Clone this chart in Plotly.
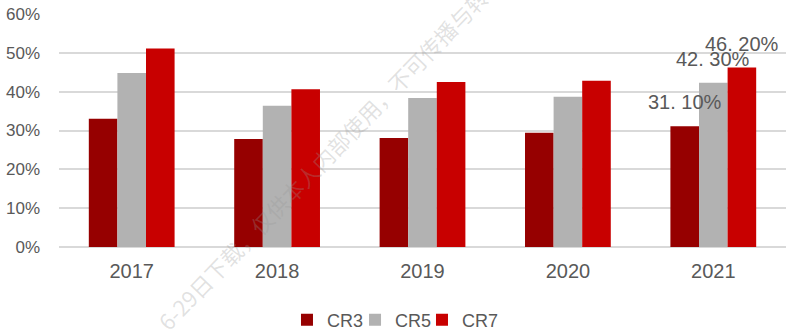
import plotly.graph_objects as go

# Market concentration ratios by year
years = ["2017", "2018", "2019", "2020", "2021"]
cr3 = [33.0, 27.8, 28.1, 29.4, 31.1]
cr5 = [44.8, 36.4, 38.4, 38.7, 42.3]
cr7 = [51.1, 40.6, 42.5, 42.8, 46.2]
series_names = ["CR3", "CR5", "CR7"]
series_colors = ["#960000", "#B2B2B2", "#C80000"]
y_ticks = [0, 10, 20, 30, 40, 50, 60]

text_color = "#595959"
base_font = "Liberation Sans, Arial, sans-serif"

# one small legend per series so the entries sit close together
legend_ids = ["legend", "legend2", "legend3"]
legend_x = [0.3136, 0.4072, 0.4993]

fig = go.Figure()
for name, vals, color, lid in zip(series_names, [cr3, cr5, cr7], series_colors, legend_ids):
    fig.add_trace(go.Bar(
        x=years,
        y=[v / 100 for v in vals],
        name=name,
        legend=lid,
        marker=dict(color=color, line=dict(width=0)),
    ))

# Value labels on the latest year
bar_w = 145 * 0.59 / 3
last_idx = len(years) - 1
for i, vals in enumerate([cr3, cr5, cr7]):
    v = vals[-1]
    fig.add_annotation(
        x=last_idx, y=v / 100,
        text=f"{v:.2f}".replace(".", ". ") + "%",
        showarrow=False,
        xanchor="center", yanchor="middle",
        xshift=(i - 1) * bar_w, yshift=24,
        font=dict(family=base_font, size=20, color=text_color),
    )

# Faint diagonal watermark (position in paper fractions of the plot area)
fig.add_annotation(
    x=(330 - 59) / (786 - 59), y=(247 - 151) / (247 - 14),
    xref="paper", yref="paper",
    text="6-29日下载，仅供本人内部使用，不可传播与转载",
    showarrow=False, textangle=-46,
    font=dict(family="Noto Sans CJK SC, sans-serif", size=22,
              color="rgba(150,150,150,0.28)"),
)

legend_style = dict(
    orientation="h", xanchor="left", y=-0.313, yanchor="middle",
    font=dict(family=base_font, size=18, color=text_color),
    itemwidth=30, bgcolor="rgba(0,0,0,0)",
)

fig.update_layout(
    width=792, height=332,
    margin=dict(l=59, r=6, t=14, b=85, autoexpand=False),
    paper_bgcolor="white", plot_bgcolor="white",
    barmode="group", bargap=0.41, bargroupgap=0,
    font=dict(family=base_font, color=text_color),
    showlegend=True,
    legend=dict(x=legend_x[0], **legend_style),
    legend2=dict(x=legend_x[1], **legend_style),
    legend3=dict(x=legend_x[2], **legend_style),
)
fig.update_xaxes(
    type="category", range=[-0.5, len(years) - 0.5], autorange=False,
    showgrid=False, showline=False, ticks="",
    tickfont=dict(size=20, color=text_color),
    ticklabelstandoff=10,
)
fig.update_yaxes(
    range=[0, 0.6], autorange=False, tickvals=[t / 100 for t in y_ticks],
    ticktext=[f"{t}%" for t in y_ticks],
    showgrid=True, gridcolor="#D9D9D9", gridwidth=1.5,
    zeroline=True, zerolinecolor="#D9D9D9", zerolinewidth=1.5,
    showline=False, ticks="",
    tickfont=dict(size=17, color=text_color),
    ticklabelstandoff=18,
)

fig.write_html("out.html")
